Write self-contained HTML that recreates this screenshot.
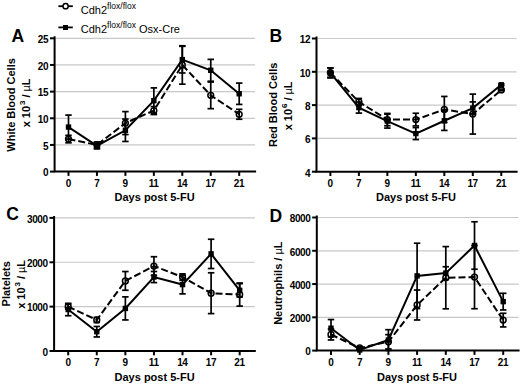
<!DOCTYPE html><html><head><meta charset="utf-8"><style>html,body{margin:0;padding:0;background:#fff;overflow:hidden;width:520px;height:385px;}svg{display:block}</style></head><body>
<svg width="520" height="385" viewBox="0 0 520 385" font-family='"Liberation Sans", sans-serif'>
<rect width="520" height="385" fill="#fff"/>
<line x1="55.60" y1="144.94" x2="255.10" y2="144.94" stroke="#c8c8c8" stroke-width="1.2"/>
<line x1="55.60" y1="118.28" x2="255.10" y2="118.28" stroke="#c8c8c8" stroke-width="1.2"/>
<line x1="55.60" y1="91.62" x2="255.10" y2="91.62" stroke="#c8c8c8" stroke-width="1.2"/>
<line x1="55.60" y1="64.96" x2="255.10" y2="64.96" stroke="#c8c8c8" stroke-width="1.2"/>
<line x1="55.60" y1="38.30" x2="255.10" y2="38.30" stroke="#c8c8c8" stroke-width="1.2"/>
<path d="M54.60 37.30 V171.60 H255.10" fill="none" stroke="#000" stroke-width="2.0" stroke-linecap="square"/>
<line x1="50.00" y1="171.60" x2="54.60" y2="171.60" stroke="#000" stroke-width="2.0"/>
<text x="48.20" y="176.40" font-size="10" font-weight="bold" letter-spacing="-0.4" text-anchor="end">0</text>
<line x1="50.00" y1="144.94" x2="54.60" y2="144.94" stroke="#000" stroke-width="2.0"/>
<text x="48.20" y="149.74" font-size="10" font-weight="bold" letter-spacing="-0.4" text-anchor="end">5</text>
<line x1="50.00" y1="118.28" x2="54.60" y2="118.28" stroke="#000" stroke-width="2.0"/>
<text x="48.20" y="123.08" font-size="10" font-weight="bold" letter-spacing="-0.4" text-anchor="end">10</text>
<line x1="50.00" y1="91.62" x2="54.60" y2="91.62" stroke="#000" stroke-width="2.0"/>
<text x="48.20" y="96.42" font-size="10" font-weight="bold" letter-spacing="-0.4" text-anchor="end">15</text>
<line x1="50.00" y1="64.96" x2="54.60" y2="64.96" stroke="#000" stroke-width="2.0"/>
<text x="48.20" y="69.76" font-size="10" font-weight="bold" letter-spacing="-0.4" text-anchor="end">20</text>
<line x1="50.00" y1="38.30" x2="54.60" y2="38.30" stroke="#000" stroke-width="2.0"/>
<text x="48.20" y="43.10" font-size="10" font-weight="bold" letter-spacing="-0.4" text-anchor="end">25</text>
<line x1="68.50" y1="171.60" x2="68.50" y2="175.90" stroke="#000" stroke-width="2.0"/>
<text x="68.30" y="186.70" font-size="10" font-weight="bold" letter-spacing="-0.4" text-anchor="middle">0</text>
<line x1="96.95" y1="171.60" x2="96.95" y2="175.90" stroke="#000" stroke-width="2.0"/>
<text x="96.75" y="186.70" font-size="10" font-weight="bold" letter-spacing="-0.4" text-anchor="middle">7</text>
<line x1="125.40" y1="171.60" x2="125.40" y2="175.90" stroke="#000" stroke-width="2.0"/>
<text x="125.20" y="186.70" font-size="10" font-weight="bold" letter-spacing="-0.4" text-anchor="middle">9</text>
<line x1="153.85" y1="171.60" x2="153.85" y2="175.90" stroke="#000" stroke-width="2.0"/>
<text x="153.65" y="186.70" font-size="10" font-weight="bold" letter-spacing="-0.4" text-anchor="middle">11</text>
<line x1="182.30" y1="171.60" x2="182.30" y2="175.90" stroke="#000" stroke-width="2.0"/>
<text x="182.10" y="186.70" font-size="10" font-weight="bold" letter-spacing="-0.4" text-anchor="middle">14</text>
<line x1="210.75" y1="171.60" x2="210.75" y2="175.90" stroke="#000" stroke-width="2.0"/>
<text x="210.55" y="186.70" font-size="10" font-weight="bold" letter-spacing="-0.4" text-anchor="middle">17</text>
<line x1="239.20" y1="171.60" x2="239.20" y2="175.90" stroke="#000" stroke-width="2.0"/>
<text x="239.00" y="186.70" font-size="10" font-weight="bold" letter-spacing="-0.4" text-anchor="middle">21</text>
<text x="154.60" y="200.80" font-size="11" font-weight="bold" text-anchor="middle">Days post 5-FU</text>
<text transform="translate(15.10 104.90) rotate(-90)" x="0" y="0" font-size="11" font-weight="bold" text-anchor="middle">White Blood Cells</text>
<text transform="translate(30.30 102.85) rotate(-90)" x="0" y="0" font-size="11" font-weight="bold" text-anchor="middle">x 10<tspan dx="0.8" dy="-5" font-size="8">3</tspan><tspan dy="5"> / </tspan><tspan font-weight="normal">µ</tspan>L</text>
<text x="11.50" y="41.80" font-size="17.5" font-weight="bold">A</text>
<line x1="68.50" y1="135.34" x2="68.50" y2="142.81" stroke="#000" stroke-width="1.7"/>
<line x1="65.25" y1="135.34" x2="71.75" y2="135.34" stroke="#000" stroke-width="1.7"/>
<line x1="65.25" y1="142.81" x2="71.75" y2="142.81" stroke="#000" stroke-width="1.7"/>
<line x1="96.95" y1="142.01" x2="96.95" y2="147.87" stroke="#000" stroke-width="1.7"/>
<line x1="93.70" y1="142.01" x2="100.20" y2="142.01" stroke="#000" stroke-width="1.7"/>
<line x1="93.70" y1="147.87" x2="100.20" y2="147.87" stroke="#000" stroke-width="1.7"/>
<line x1="125.40" y1="111.61" x2="125.40" y2="134.54" stroke="#000" stroke-width="1.7"/>
<line x1="122.15" y1="111.61" x2="128.65" y2="111.61" stroke="#000" stroke-width="1.7"/>
<line x1="122.15" y1="134.54" x2="128.65" y2="134.54" stroke="#000" stroke-width="1.7"/>
<line x1="153.85" y1="106.55" x2="153.85" y2="114.55" stroke="#000" stroke-width="1.7"/>
<line x1="150.60" y1="106.55" x2="157.10" y2="106.55" stroke="#000" stroke-width="1.7"/>
<line x1="150.60" y1="114.55" x2="157.10" y2="114.55" stroke="#000" stroke-width="1.7"/>
<line x1="182.30" y1="45.76" x2="182.30" y2="84.16" stroke="#000" stroke-width="1.7"/>
<line x1="179.05" y1="45.76" x2="185.55" y2="45.76" stroke="#000" stroke-width="1.7"/>
<line x1="179.05" y1="84.16" x2="185.55" y2="84.16" stroke="#000" stroke-width="1.7"/>
<line x1="210.75" y1="82.02" x2="210.75" y2="108.68" stroke="#000" stroke-width="1.7"/>
<line x1="207.50" y1="82.02" x2="214.00" y2="82.02" stroke="#000" stroke-width="1.7"/>
<line x1="207.50" y1="108.68" x2="214.00" y2="108.68" stroke="#000" stroke-width="1.7"/>
<line x1="239.20" y1="109.32" x2="239.20" y2="119.24" stroke="#000" stroke-width="1.7"/>
<line x1="235.95" y1="109.32" x2="242.45" y2="109.32" stroke="#000" stroke-width="1.7"/>
<line x1="235.95" y1="119.24" x2="242.45" y2="119.24" stroke="#000" stroke-width="1.7"/>
<polyline points="68.50,139.07 96.95,144.94 125.40,123.08 153.85,110.55 182.30,64.96 210.75,95.35 239.20,114.28" fill="none" stroke="#000" stroke-width="2.0" stroke-dasharray="7 3"/>
<circle cx="68.50" cy="139.07" r="2.9" fill="none" stroke="#000" stroke-width="1.5"/>
<circle cx="96.95" cy="144.94" r="2.9" fill="none" stroke="#000" stroke-width="1.5"/>
<circle cx="125.40" cy="123.08" r="2.9" fill="none" stroke="#000" stroke-width="1.5"/>
<circle cx="153.85" cy="110.55" r="2.9" fill="none" stroke="#000" stroke-width="1.5"/>
<circle cx="182.30" cy="64.96" r="2.9" fill="none" stroke="#000" stroke-width="1.5"/>
<circle cx="210.75" cy="95.35" r="2.9" fill="none" stroke="#000" stroke-width="1.5"/>
<circle cx="239.20" cy="114.28" r="2.9" fill="none" stroke="#000" stroke-width="1.5"/>
<line x1="68.50" y1="115.08" x2="68.50" y2="139.07" stroke="#000" stroke-width="1.7"/>
<line x1="65.25" y1="115.08" x2="71.75" y2="115.08" stroke="#000" stroke-width="1.7"/>
<line x1="65.25" y1="139.07" x2="71.75" y2="139.07" stroke="#000" stroke-width="1.7"/>
<line x1="96.95" y1="142.54" x2="96.95" y2="148.94" stroke="#000" stroke-width="1.7"/>
<line x1="93.70" y1="142.54" x2="100.20" y2="142.54" stroke="#000" stroke-width="1.7"/>
<line x1="93.70" y1="148.94" x2="100.20" y2="148.94" stroke="#000" stroke-width="1.7"/>
<line x1="125.40" y1="119.08" x2="125.40" y2="141.47" stroke="#000" stroke-width="1.7"/>
<line x1="122.15" y1="119.08" x2="128.65" y2="119.08" stroke="#000" stroke-width="1.7"/>
<line x1="122.15" y1="141.47" x2="128.65" y2="141.47" stroke="#000" stroke-width="1.7"/>
<line x1="153.85" y1="87.89" x2="153.85" y2="113.48" stroke="#000" stroke-width="1.7"/>
<line x1="150.60" y1="87.89" x2="157.10" y2="87.89" stroke="#000" stroke-width="1.7"/>
<line x1="150.60" y1="113.48" x2="157.10" y2="113.48" stroke="#000" stroke-width="1.7"/>
<line x1="182.30" y1="46.30" x2="182.30" y2="72.96" stroke="#000" stroke-width="1.7"/>
<line x1="179.05" y1="46.30" x2="185.55" y2="46.30" stroke="#000" stroke-width="1.7"/>
<line x1="179.05" y1="72.96" x2="185.55" y2="72.96" stroke="#000" stroke-width="1.7"/>
<line x1="210.75" y1="59.36" x2="210.75" y2="81.22" stroke="#000" stroke-width="1.7"/>
<line x1="207.50" y1="59.36" x2="214.00" y2="59.36" stroke="#000" stroke-width="1.7"/>
<line x1="207.50" y1="81.22" x2="214.00" y2="81.22" stroke="#000" stroke-width="1.7"/>
<line x1="239.20" y1="83.09" x2="239.20" y2="104.42" stroke="#000" stroke-width="1.7"/>
<line x1="235.95" y1="83.09" x2="242.45" y2="83.09" stroke="#000" stroke-width="1.7"/>
<line x1="235.95" y1="104.42" x2="242.45" y2="104.42" stroke="#000" stroke-width="1.7"/>
<polyline points="68.50,127.08 96.95,145.74 125.40,130.28 153.85,100.68 182.30,59.63 210.75,70.29 239.20,93.75" fill="none" stroke="#000" stroke-width="2.0"/>
<rect x="65.80" y="124.38" width="5.4" height="5.4" fill="#000"/>
<rect x="94.25" y="143.04" width="5.4" height="5.4" fill="#000"/>
<rect x="122.70" y="127.58" width="5.4" height="5.4" fill="#000"/>
<rect x="151.15" y="97.98" width="5.4" height="5.4" fill="#000"/>
<rect x="179.60" y="56.93" width="5.4" height="5.4" fill="#000"/>
<rect x="208.05" y="67.59" width="5.4" height="5.4" fill="#000"/>
<rect x="236.50" y="91.05" width="5.4" height="5.4" fill="#000"/>
<line x1="317.50" y1="138.40" x2="516.60" y2="138.40" stroke="#c8c8c8" stroke-width="1.2"/>
<line x1="317.50" y1="105.10" x2="516.60" y2="105.10" stroke="#c8c8c8" stroke-width="1.2"/>
<line x1="317.50" y1="71.80" x2="516.60" y2="71.80" stroke="#c8c8c8" stroke-width="1.2"/>
<line x1="317.50" y1="38.50" x2="516.60" y2="38.50" stroke="#c8c8c8" stroke-width="1.2"/>
<path d="M316.50 37.50 V171.70 H516.60" fill="none" stroke="#000" stroke-width="2.0" stroke-linecap="square"/>
<line x1="311.90" y1="171.70" x2="316.50" y2="171.70" stroke="#000" stroke-width="2.0"/>
<text x="310.10" y="176.50" font-size="10" font-weight="bold" letter-spacing="-0.4" text-anchor="end">4</text>
<line x1="311.90" y1="138.40" x2="316.50" y2="138.40" stroke="#000" stroke-width="2.0"/>
<text x="310.10" y="143.20" font-size="10" font-weight="bold" letter-spacing="-0.4" text-anchor="end">6</text>
<line x1="311.90" y1="105.10" x2="316.50" y2="105.10" stroke="#000" stroke-width="2.0"/>
<text x="310.10" y="109.90" font-size="10" font-weight="bold" letter-spacing="-0.4" text-anchor="end">8</text>
<line x1="311.90" y1="71.80" x2="316.50" y2="71.80" stroke="#000" stroke-width="2.0"/>
<text x="310.10" y="76.60" font-size="10" font-weight="bold" letter-spacing="-0.4" text-anchor="end">10</text>
<line x1="311.90" y1="38.50" x2="316.50" y2="38.50" stroke="#000" stroke-width="2.0"/>
<text x="310.10" y="43.30" font-size="10" font-weight="bold" letter-spacing="-0.4" text-anchor="end">12</text>
<line x1="330.40" y1="171.70" x2="330.40" y2="176.00" stroke="#000" stroke-width="2.0"/>
<text x="330.20" y="186.80" font-size="10" font-weight="bold" letter-spacing="-0.4" text-anchor="middle">0</text>
<line x1="358.88" y1="171.70" x2="358.88" y2="176.00" stroke="#000" stroke-width="2.0"/>
<text x="358.68" y="186.80" font-size="10" font-weight="bold" letter-spacing="-0.4" text-anchor="middle">7</text>
<line x1="387.36" y1="171.70" x2="387.36" y2="176.00" stroke="#000" stroke-width="2.0"/>
<text x="387.16" y="186.80" font-size="10" font-weight="bold" letter-spacing="-0.4" text-anchor="middle">9</text>
<line x1="415.84" y1="171.70" x2="415.84" y2="176.00" stroke="#000" stroke-width="2.0"/>
<text x="415.64" y="186.80" font-size="10" font-weight="bold" letter-spacing="-0.4" text-anchor="middle">11</text>
<line x1="444.32" y1="171.70" x2="444.32" y2="176.00" stroke="#000" stroke-width="2.0"/>
<text x="444.12" y="186.80" font-size="10" font-weight="bold" letter-spacing="-0.4" text-anchor="middle">14</text>
<line x1="472.80" y1="171.70" x2="472.80" y2="176.00" stroke="#000" stroke-width="2.0"/>
<text x="472.60" y="186.80" font-size="10" font-weight="bold" letter-spacing="-0.4" text-anchor="middle">17</text>
<line x1="501.28" y1="171.70" x2="501.28" y2="176.00" stroke="#000" stroke-width="2.0"/>
<text x="501.08" y="186.80" font-size="10" font-weight="bold" letter-spacing="-0.4" text-anchor="middle">21</text>
<text x="416.00" y="200.80" font-size="11" font-weight="bold" text-anchor="middle">Days post 5-FU</text>
<text transform="translate(276.50 104.85) rotate(-90)" x="0" y="0" font-size="11" font-weight="bold" text-anchor="middle">Red Blood Cells</text>
<text transform="translate(292.30 105.85) rotate(-90)" x="0" y="0" font-size="11" font-weight="bold" text-anchor="middle">x 10<tspan dx="0.8" dy="-5" font-size="8">6</tspan><tspan dy="5"> / </tspan><tspan font-weight="normal">µ</tspan>L</text>
<text x="269.50" y="41.60" font-size="17.5" font-weight="bold">B</text>
<line x1="330.40" y1="67.97" x2="330.40" y2="77.29" stroke="#000" stroke-width="1.7"/>
<line x1="327.15" y1="67.97" x2="333.65" y2="67.97" stroke="#000" stroke-width="1.7"/>
<line x1="327.15" y1="77.29" x2="333.65" y2="77.29" stroke="#000" stroke-width="1.7"/>
<line x1="358.88" y1="98.44" x2="358.88" y2="105.43" stroke="#000" stroke-width="1.7"/>
<line x1="355.63" y1="98.44" x2="362.13" y2="98.44" stroke="#000" stroke-width="1.7"/>
<line x1="355.63" y1="105.43" x2="362.13" y2="105.43" stroke="#000" stroke-width="1.7"/>
<line x1="387.36" y1="113.42" x2="387.36" y2="125.75" stroke="#000" stroke-width="1.7"/>
<line x1="384.11" y1="113.42" x2="390.61" y2="113.42" stroke="#000" stroke-width="1.7"/>
<line x1="384.11" y1="125.75" x2="390.61" y2="125.75" stroke="#000" stroke-width="1.7"/>
<line x1="415.84" y1="113.26" x2="415.84" y2="125.91" stroke="#000" stroke-width="1.7"/>
<line x1="412.59" y1="113.26" x2="419.09" y2="113.26" stroke="#000" stroke-width="1.7"/>
<line x1="412.59" y1="125.91" x2="419.09" y2="125.91" stroke="#000" stroke-width="1.7"/>
<line x1="444.32" y1="96.44" x2="444.32" y2="122.42" stroke="#000" stroke-width="1.7"/>
<line x1="441.07" y1="96.44" x2="447.57" y2="96.44" stroke="#000" stroke-width="1.7"/>
<line x1="441.07" y1="122.42" x2="447.57" y2="122.42" stroke="#000" stroke-width="1.7"/>
<line x1="472.80" y1="94.11" x2="472.80" y2="134.07" stroke="#000" stroke-width="1.7"/>
<line x1="469.55" y1="94.11" x2="476.05" y2="94.11" stroke="#000" stroke-width="1.7"/>
<line x1="469.55" y1="134.07" x2="476.05" y2="134.07" stroke="#000" stroke-width="1.7"/>
<line x1="501.28" y1="89.12" x2="501.28" y2="90.78" stroke="#000" stroke-width="1.7"/>
<line x1="498.03" y1="89.12" x2="504.53" y2="89.12" stroke="#000" stroke-width="1.7"/>
<line x1="498.03" y1="90.78" x2="504.53" y2="90.78" stroke="#000" stroke-width="1.7"/>
<polyline points="330.40,72.63 358.88,101.94 387.36,119.59 415.84,119.59 444.32,109.43 472.80,114.09 501.28,89.95" fill="none" stroke="#000" stroke-width="2.0" stroke-dasharray="7 3"/>
<circle cx="330.40" cy="72.63" r="2.9" fill="none" stroke="#000" stroke-width="1.5"/>
<circle cx="358.88" cy="101.94" r="2.9" fill="none" stroke="#000" stroke-width="1.5"/>
<circle cx="387.36" cy="119.59" r="2.9" fill="none" stroke="#000" stroke-width="1.5"/>
<circle cx="415.84" cy="119.59" r="2.9" fill="none" stroke="#000" stroke-width="1.5"/>
<circle cx="444.32" cy="109.43" r="2.9" fill="none" stroke="#000" stroke-width="1.5"/>
<circle cx="472.80" cy="114.09" r="2.9" fill="none" stroke="#000" stroke-width="1.5"/>
<circle cx="501.28" cy="89.95" r="2.9" fill="none" stroke="#000" stroke-width="1.5"/>
<line x1="330.40" y1="67.97" x2="330.40" y2="77.96" stroke="#000" stroke-width="1.7"/>
<line x1="327.15" y1="67.97" x2="333.65" y2="67.97" stroke="#000" stroke-width="1.7"/>
<line x1="327.15" y1="77.96" x2="333.65" y2="77.96" stroke="#000" stroke-width="1.7"/>
<line x1="358.88" y1="102.10" x2="358.88" y2="113.09" stroke="#000" stroke-width="1.7"/>
<line x1="355.63" y1="102.10" x2="362.13" y2="102.10" stroke="#000" stroke-width="1.7"/>
<line x1="355.63" y1="113.09" x2="362.13" y2="113.09" stroke="#000" stroke-width="1.7"/>
<line x1="387.36" y1="114.09" x2="387.36" y2="128.08" stroke="#000" stroke-width="1.7"/>
<line x1="384.11" y1="114.09" x2="390.61" y2="114.09" stroke="#000" stroke-width="1.7"/>
<line x1="384.11" y1="128.08" x2="390.61" y2="128.08" stroke="#000" stroke-width="1.7"/>
<line x1="415.84" y1="127.58" x2="415.84" y2="139.57" stroke="#000" stroke-width="1.7"/>
<line x1="412.59" y1="127.58" x2="419.09" y2="127.58" stroke="#000" stroke-width="1.7"/>
<line x1="412.59" y1="139.57" x2="419.09" y2="139.57" stroke="#000" stroke-width="1.7"/>
<line x1="444.32" y1="111.09" x2="444.32" y2="130.41" stroke="#000" stroke-width="1.7"/>
<line x1="441.07" y1="111.09" x2="447.57" y2="111.09" stroke="#000" stroke-width="1.7"/>
<line x1="441.07" y1="130.41" x2="447.57" y2="130.41" stroke="#000" stroke-width="1.7"/>
<line x1="472.80" y1="101.94" x2="472.80" y2="114.26" stroke="#000" stroke-width="1.7"/>
<line x1="469.55" y1="101.94" x2="476.05" y2="101.94" stroke="#000" stroke-width="1.7"/>
<line x1="469.55" y1="114.26" x2="476.05" y2="114.26" stroke="#000" stroke-width="1.7"/>
<line x1="501.28" y1="83.95" x2="501.28" y2="85.62" stroke="#000" stroke-width="1.7"/>
<line x1="498.03" y1="83.95" x2="504.53" y2="83.95" stroke="#000" stroke-width="1.7"/>
<line x1="498.03" y1="85.62" x2="504.53" y2="85.62" stroke="#000" stroke-width="1.7"/>
<polyline points="330.40,72.97 358.88,107.60 387.36,121.08 415.84,133.57 444.32,120.75 472.80,108.10 501.28,84.79" fill="none" stroke="#000" stroke-width="2.0"/>
<rect x="327.70" y="70.27" width="5.4" height="5.4" fill="#000"/>
<rect x="356.18" y="104.90" width="5.4" height="5.4" fill="#000"/>
<rect x="384.66" y="118.38" width="5.4" height="5.4" fill="#000"/>
<rect x="413.14" y="130.87" width="5.4" height="5.4" fill="#000"/>
<rect x="441.62" y="118.05" width="5.4" height="5.4" fill="#000"/>
<rect x="470.10" y="105.40" width="5.4" height="5.4" fill="#000"/>
<rect x="498.58" y="82.09" width="5.4" height="5.4" fill="#000"/>
<line x1="55.10" y1="306.63" x2="254.80" y2="306.63" stroke="#c8c8c8" stroke-width="1.2"/>
<line x1="55.10" y1="262.27" x2="254.80" y2="262.27" stroke="#c8c8c8" stroke-width="1.2"/>
<line x1="55.10" y1="217.90" x2="254.80" y2="217.90" stroke="#c8c8c8" stroke-width="1.2"/>
<path d="M54.10 216.90 V351.00 H254.80" fill="none" stroke="#000" stroke-width="2.0" stroke-linecap="square"/>
<line x1="49.50" y1="351.00" x2="54.10" y2="351.00" stroke="#000" stroke-width="2.0"/>
<text x="47.70" y="355.80" font-size="10" font-weight="bold" letter-spacing="-0.4" text-anchor="end">0</text>
<line x1="49.50" y1="306.63" x2="54.10" y2="306.63" stroke="#000" stroke-width="2.0"/>
<text x="47.70" y="311.43" font-size="10" font-weight="bold" letter-spacing="-0.4" text-anchor="end">1000</text>
<line x1="49.50" y1="262.27" x2="54.10" y2="262.27" stroke="#000" stroke-width="2.0"/>
<text x="47.70" y="267.07" font-size="10" font-weight="bold" letter-spacing="-0.4" text-anchor="end">2000</text>
<line x1="49.50" y1="217.90" x2="54.10" y2="217.90" stroke="#000" stroke-width="2.0"/>
<text x="47.70" y="222.70" font-size="10" font-weight="bold" letter-spacing="-0.4" text-anchor="end">3000</text>
<line x1="68.20" y1="351.00" x2="68.20" y2="355.30" stroke="#000" stroke-width="2.0"/>
<text x="68.00" y="366.10" font-size="10" font-weight="bold" letter-spacing="-0.4" text-anchor="middle">0</text>
<line x1="96.78" y1="351.00" x2="96.78" y2="355.30" stroke="#000" stroke-width="2.0"/>
<text x="96.58" y="366.10" font-size="10" font-weight="bold" letter-spacing="-0.4" text-anchor="middle">7</text>
<line x1="125.36" y1="351.00" x2="125.36" y2="355.30" stroke="#000" stroke-width="2.0"/>
<text x="125.16" y="366.10" font-size="10" font-weight="bold" letter-spacing="-0.4" text-anchor="middle">9</text>
<line x1="153.94" y1="351.00" x2="153.94" y2="355.30" stroke="#000" stroke-width="2.0"/>
<text x="153.74" y="366.10" font-size="10" font-weight="bold" letter-spacing="-0.4" text-anchor="middle">11</text>
<line x1="182.52" y1="351.00" x2="182.52" y2="355.30" stroke="#000" stroke-width="2.0"/>
<text x="182.32" y="366.10" font-size="10" font-weight="bold" letter-spacing="-0.4" text-anchor="middle">14</text>
<line x1="211.10" y1="351.00" x2="211.10" y2="355.30" stroke="#000" stroke-width="2.0"/>
<text x="210.90" y="366.10" font-size="10" font-weight="bold" letter-spacing="-0.4" text-anchor="middle">17</text>
<line x1="239.68" y1="351.00" x2="239.68" y2="355.30" stroke="#000" stroke-width="2.0"/>
<text x="239.48" y="366.10" font-size="10" font-weight="bold" letter-spacing="-0.4" text-anchor="middle">21</text>
<text x="154.60" y="380.50" font-size="11" font-weight="bold" text-anchor="middle">Days post 5-FU</text>
<text transform="translate(9.60 283.80) rotate(-90)" x="0" y="0" font-size="11" font-weight="bold" text-anchor="middle">Platelets</text>
<text transform="translate(25.00 284.35) rotate(-90)" x="0" y="0" font-size="11" font-weight="bold" text-anchor="middle">x 10<tspan dx="0.8" dy="-5" font-size="8">3</tspan><tspan dy="5"> / </tspan><tspan font-weight="normal">µ</tspan>L</text>
<text x="6.30" y="220.30" font-size="17.5" font-weight="bold">C</text>
<line x1="68.20" y1="304.06" x2="68.20" y2="309.21" stroke="#000" stroke-width="1.7"/>
<line x1="64.95" y1="304.06" x2="71.45" y2="304.06" stroke="#000" stroke-width="1.7"/>
<line x1="64.95" y1="309.21" x2="71.45" y2="309.21" stroke="#000" stroke-width="1.7"/>
<line x1="96.78" y1="317.41" x2="96.78" y2="322.47" stroke="#000" stroke-width="1.7"/>
<line x1="93.53" y1="317.41" x2="100.03" y2="317.41" stroke="#000" stroke-width="1.7"/>
<line x1="93.53" y1="322.47" x2="100.03" y2="322.47" stroke="#000" stroke-width="1.7"/>
<line x1="125.36" y1="271.54" x2="125.36" y2="290.26" stroke="#000" stroke-width="1.7"/>
<line x1="122.11" y1="271.54" x2="128.61" y2="271.54" stroke="#000" stroke-width="1.7"/>
<line x1="122.11" y1="290.26" x2="128.61" y2="290.26" stroke="#000" stroke-width="1.7"/>
<line x1="153.94" y1="256.72" x2="153.94" y2="275.35" stroke="#000" stroke-width="1.7"/>
<line x1="150.69" y1="256.72" x2="157.19" y2="256.72" stroke="#000" stroke-width="1.7"/>
<line x1="150.69" y1="275.35" x2="157.19" y2="275.35" stroke="#000" stroke-width="1.7"/>
<line x1="182.52" y1="273.85" x2="182.52" y2="280.24" stroke="#000" stroke-width="1.7"/>
<line x1="179.27" y1="273.85" x2="185.77" y2="273.85" stroke="#000" stroke-width="1.7"/>
<line x1="179.27" y1="280.24" x2="185.77" y2="280.24" stroke="#000" stroke-width="1.7"/>
<line x1="211.10" y1="272.78" x2="211.10" y2="313.60" stroke="#000" stroke-width="1.7"/>
<line x1="207.85" y1="272.78" x2="214.35" y2="272.78" stroke="#000" stroke-width="1.7"/>
<line x1="207.85" y1="313.60" x2="214.35" y2="313.60" stroke="#000" stroke-width="1.7"/>
<line x1="239.68" y1="283.03" x2="239.68" y2="306.10" stroke="#000" stroke-width="1.7"/>
<line x1="236.43" y1="283.03" x2="242.93" y2="283.03" stroke="#000" stroke-width="1.7"/>
<line x1="236.43" y1="306.10" x2="242.93" y2="306.10" stroke="#000" stroke-width="1.7"/>
<polyline points="68.20,306.63 96.78,319.94 125.36,280.90 153.94,266.04 182.52,277.04 211.10,293.19 239.68,294.57" fill="none" stroke="#000" stroke-width="2.0" stroke-dasharray="7 3"/>
<circle cx="68.20" cy="306.63" r="2.9" fill="none" stroke="#000" stroke-width="1.5"/>
<circle cx="96.78" cy="319.94" r="2.9" fill="none" stroke="#000" stroke-width="1.5"/>
<circle cx="125.36" cy="280.90" r="2.9" fill="none" stroke="#000" stroke-width="1.5"/>
<circle cx="153.94" cy="266.04" r="2.9" fill="none" stroke="#000" stroke-width="1.5"/>
<circle cx="182.52" cy="277.04" r="2.9" fill="none" stroke="#000" stroke-width="1.5"/>
<circle cx="211.10" cy="293.19" r="2.9" fill="none" stroke="#000" stroke-width="1.5"/>
<circle cx="239.68" cy="294.57" r="2.9" fill="none" stroke="#000" stroke-width="1.5"/>
<line x1="68.20" y1="303.31" x2="68.20" y2="315.73" stroke="#000" stroke-width="1.7"/>
<line x1="64.95" y1="303.31" x2="71.45" y2="303.31" stroke="#000" stroke-width="1.7"/>
<line x1="64.95" y1="315.73" x2="71.45" y2="315.73" stroke="#000" stroke-width="1.7"/>
<line x1="96.78" y1="326.47" x2="96.78" y2="336.94" stroke="#000" stroke-width="1.7"/>
<line x1="93.53" y1="326.47" x2="100.03" y2="326.47" stroke="#000" stroke-width="1.7"/>
<line x1="93.53" y1="336.94" x2="100.03" y2="336.94" stroke="#000" stroke-width="1.7"/>
<line x1="125.36" y1="296.87" x2="125.36" y2="319.94" stroke="#000" stroke-width="1.7"/>
<line x1="122.11" y1="296.87" x2="128.61" y2="296.87" stroke="#000" stroke-width="1.7"/>
<line x1="122.11" y1="319.94" x2="128.61" y2="319.94" stroke="#000" stroke-width="1.7"/>
<line x1="153.94" y1="271.49" x2="153.94" y2="282.59" stroke="#000" stroke-width="1.7"/>
<line x1="150.69" y1="271.49" x2="157.19" y2="271.49" stroke="#000" stroke-width="1.7"/>
<line x1="150.69" y1="282.59" x2="157.19" y2="282.59" stroke="#000" stroke-width="1.7"/>
<line x1="182.52" y1="275.27" x2="182.52" y2="293.90" stroke="#000" stroke-width="1.7"/>
<line x1="179.27" y1="275.27" x2="185.77" y2="275.27" stroke="#000" stroke-width="1.7"/>
<line x1="179.27" y1="293.90" x2="185.77" y2="293.90" stroke="#000" stroke-width="1.7"/>
<line x1="211.10" y1="239.24" x2="211.10" y2="268.52" stroke="#000" stroke-width="1.7"/>
<line x1="207.85" y1="239.24" x2="214.35" y2="239.24" stroke="#000" stroke-width="1.7"/>
<line x1="207.85" y1="268.52" x2="214.35" y2="268.52" stroke="#000" stroke-width="1.7"/>
<line x1="239.68" y1="283.65" x2="239.68" y2="296.96" stroke="#000" stroke-width="1.7"/>
<line x1="236.43" y1="283.65" x2="242.93" y2="283.65" stroke="#000" stroke-width="1.7"/>
<line x1="236.43" y1="296.96" x2="242.93" y2="296.96" stroke="#000" stroke-width="1.7"/>
<polyline points="68.20,309.52 96.78,331.70 125.36,308.41 153.94,277.04 182.52,284.58 211.10,253.88 239.68,290.31" fill="none" stroke="#000" stroke-width="2.0"/>
<rect x="65.50" y="306.82" width="5.4" height="5.4" fill="#000"/>
<rect x="94.08" y="329.00" width="5.4" height="5.4" fill="#000"/>
<rect x="122.66" y="305.71" width="5.4" height="5.4" fill="#000"/>
<rect x="151.24" y="274.34" width="5.4" height="5.4" fill="#000"/>
<rect x="179.82" y="281.88" width="5.4" height="5.4" fill="#000"/>
<rect x="208.40" y="251.18" width="5.4" height="5.4" fill="#000"/>
<rect x="236.98" y="287.61" width="5.4" height="5.4" fill="#000"/>
<line x1="317.80" y1="317.33" x2="518.60" y2="317.33" stroke="#c8c8c8" stroke-width="1.2"/>
<line x1="317.80" y1="284.05" x2="518.60" y2="284.05" stroke="#c8c8c8" stroke-width="1.2"/>
<line x1="317.80" y1="250.78" x2="518.60" y2="250.78" stroke="#c8c8c8" stroke-width="1.2"/>
<line x1="317.80" y1="217.50" x2="518.60" y2="217.50" stroke="#c8c8c8" stroke-width="1.2"/>
<path d="M316.80 216.50 V350.60 H518.60" fill="none" stroke="#000" stroke-width="2.0" stroke-linecap="square"/>
<line x1="312.20" y1="350.60" x2="316.80" y2="350.60" stroke="#000" stroke-width="2.0"/>
<text x="310.40" y="355.40" font-size="10" font-weight="bold" letter-spacing="-0.4" text-anchor="end">0</text>
<line x1="312.20" y1="317.33" x2="316.80" y2="317.33" stroke="#000" stroke-width="2.0"/>
<text x="310.40" y="322.13" font-size="10" font-weight="bold" letter-spacing="-0.4" text-anchor="end">2000</text>
<line x1="312.20" y1="284.05" x2="316.80" y2="284.05" stroke="#000" stroke-width="2.0"/>
<text x="310.40" y="288.85" font-size="10" font-weight="bold" letter-spacing="-0.4" text-anchor="end">4000</text>
<line x1="312.20" y1="250.78" x2="316.80" y2="250.78" stroke="#000" stroke-width="2.0"/>
<text x="310.40" y="255.58" font-size="10" font-weight="bold" letter-spacing="-0.4" text-anchor="end">6000</text>
<line x1="312.20" y1="217.50" x2="316.80" y2="217.50" stroke="#000" stroke-width="2.0"/>
<text x="310.40" y="222.30" font-size="10" font-weight="bold" letter-spacing="-0.4" text-anchor="end">8000</text>
<line x1="331.00" y1="350.60" x2="331.00" y2="354.90" stroke="#000" stroke-width="2.0"/>
<text x="330.80" y="365.70" font-size="10" font-weight="bold" letter-spacing="-0.4" text-anchor="middle">0</text>
<line x1="359.70" y1="350.60" x2="359.70" y2="354.90" stroke="#000" stroke-width="2.0"/>
<text x="359.50" y="365.70" font-size="10" font-weight="bold" letter-spacing="-0.4" text-anchor="middle">7</text>
<line x1="388.40" y1="350.60" x2="388.40" y2="354.90" stroke="#000" stroke-width="2.0"/>
<text x="388.20" y="365.70" font-size="10" font-weight="bold" letter-spacing="-0.4" text-anchor="middle">9</text>
<line x1="417.10" y1="350.60" x2="417.10" y2="354.90" stroke="#000" stroke-width="2.0"/>
<text x="416.90" y="365.70" font-size="10" font-weight="bold" letter-spacing="-0.4" text-anchor="middle">11</text>
<line x1="445.80" y1="350.60" x2="445.80" y2="354.90" stroke="#000" stroke-width="2.0"/>
<text x="445.60" y="365.70" font-size="10" font-weight="bold" letter-spacing="-0.4" text-anchor="middle">14</text>
<line x1="474.50" y1="350.60" x2="474.50" y2="354.90" stroke="#000" stroke-width="2.0"/>
<text x="474.30" y="365.70" font-size="10" font-weight="bold" letter-spacing="-0.4" text-anchor="middle">17</text>
<line x1="503.20" y1="350.60" x2="503.20" y2="354.90" stroke="#000" stroke-width="2.0"/>
<text x="503.00" y="365.70" font-size="10" font-weight="bold" letter-spacing="-0.4" text-anchor="middle">21</text>
<text x="417.00" y="380.50" font-size="11" font-weight="bold" text-anchor="middle">Days post 5-FU</text>
<text transform="translate(282.00 283.15) rotate(-90)" x="0" y="0" font-size="11" font-weight="bold" text-anchor="middle">Neutrophils / <tspan font-weight="normal">µ</tspan>L</text>
<text x="269.50" y="221.80" font-size="17.5" font-weight="bold">D</text>
<line x1="331.00" y1="329.05" x2="331.00" y2="339.97" stroke="#000" stroke-width="1.7"/>
<line x1="327.75" y1="329.05" x2="334.25" y2="329.05" stroke="#000" stroke-width="1.7"/>
<line x1="327.75" y1="339.97" x2="334.25" y2="339.97" stroke="#000" stroke-width="1.7"/>
<line x1="359.70" y1="346.66" x2="359.70" y2="349.32" stroke="#000" stroke-width="1.7"/>
<line x1="356.45" y1="346.66" x2="362.95" y2="346.66" stroke="#000" stroke-width="1.7"/>
<line x1="356.45" y1="349.32" x2="362.95" y2="349.32" stroke="#000" stroke-width="1.7"/>
<line x1="388.40" y1="334.63" x2="388.40" y2="348.94" stroke="#000" stroke-width="1.7"/>
<line x1="385.15" y1="334.63" x2="391.65" y2="334.63" stroke="#000" stroke-width="1.7"/>
<line x1="385.15" y1="348.94" x2="391.65" y2="348.94" stroke="#000" stroke-width="1.7"/>
<line x1="417.10" y1="290.04" x2="417.10" y2="319.99" stroke="#000" stroke-width="1.7"/>
<line x1="413.85" y1="290.04" x2="420.35" y2="290.04" stroke="#000" stroke-width="1.7"/>
<line x1="413.85" y1="319.99" x2="420.35" y2="319.99" stroke="#000" stroke-width="1.7"/>
<line x1="445.80" y1="246.60" x2="445.80" y2="308.82" stroke="#000" stroke-width="1.7"/>
<line x1="442.55" y1="246.60" x2="449.05" y2="246.60" stroke="#000" stroke-width="1.7"/>
<line x1="442.55" y1="308.82" x2="449.05" y2="308.82" stroke="#000" stroke-width="1.7"/>
<line x1="474.50" y1="245.50" x2="474.50" y2="308.72" stroke="#000" stroke-width="1.7"/>
<line x1="471.25" y1="245.50" x2="477.75" y2="245.50" stroke="#000" stroke-width="1.7"/>
<line x1="471.25" y1="308.72" x2="477.75" y2="308.72" stroke="#000" stroke-width="1.7"/>
<line x1="503.20" y1="313.28" x2="503.20" y2="326.92" stroke="#000" stroke-width="1.7"/>
<line x1="499.95" y1="313.28" x2="506.45" y2="313.28" stroke="#000" stroke-width="1.7"/>
<line x1="499.95" y1="326.92" x2="506.45" y2="326.92" stroke="#000" stroke-width="1.7"/>
<polyline points="331.00,334.51 359.70,347.99 388.40,341.78 417.10,305.01 445.80,277.71 474.50,277.11 503.20,320.10" fill="none" stroke="#000" stroke-width="2.0" stroke-dasharray="7 3"/>
<circle cx="331.00" cy="334.51" r="2.9" fill="none" stroke="#000" stroke-width="1.5"/>
<circle cx="359.70" cy="347.99" r="2.9" fill="none" stroke="#000" stroke-width="1.5"/>
<circle cx="388.40" cy="341.78" r="2.9" fill="none" stroke="#000" stroke-width="1.5"/>
<circle cx="417.10" cy="305.01" r="2.9" fill="none" stroke="#000" stroke-width="1.5"/>
<circle cx="445.80" cy="277.71" r="2.9" fill="none" stroke="#000" stroke-width="1.5"/>
<circle cx="474.50" cy="277.11" r="2.9" fill="none" stroke="#000" stroke-width="1.5"/>
<circle cx="503.20" cy="320.10" r="2.9" fill="none" stroke="#000" stroke-width="1.5"/>
<line x1="331.00" y1="319.55" x2="331.00" y2="336.86" stroke="#000" stroke-width="1.7"/>
<line x1="327.75" y1="319.55" x2="334.25" y2="319.55" stroke="#000" stroke-width="1.7"/>
<line x1="327.75" y1="336.86" x2="334.25" y2="336.86" stroke="#000" stroke-width="1.7"/>
<line x1="359.70" y1="349.00" x2="359.70" y2="350.60" stroke="#000" stroke-width="1.7"/>
<line x1="356.45" y1="349.00" x2="362.95" y2="349.00" stroke="#000" stroke-width="1.7"/>
<line x1="388.40" y1="329.69" x2="388.40" y2="350.32" stroke="#000" stroke-width="1.7"/>
<line x1="385.15" y1="329.69" x2="391.65" y2="329.69" stroke="#000" stroke-width="1.7"/>
<line x1="385.15" y1="350.32" x2="391.65" y2="350.32" stroke="#000" stroke-width="1.7"/>
<line x1="417.10" y1="243.22" x2="417.10" y2="308.57" stroke="#000" stroke-width="1.7"/>
<line x1="413.85" y1="243.22" x2="420.35" y2="243.22" stroke="#000" stroke-width="1.7"/>
<line x1="413.85" y1="308.57" x2="420.35" y2="308.57" stroke="#000" stroke-width="1.7"/>
<line x1="445.80" y1="266.75" x2="445.80" y2="279.46" stroke="#000" stroke-width="1.7"/>
<line x1="442.55" y1="266.75" x2="449.05" y2="266.75" stroke="#000" stroke-width="1.7"/>
<line x1="442.55" y1="279.46" x2="449.05" y2="279.46" stroke="#000" stroke-width="1.7"/>
<line x1="474.50" y1="221.78" x2="474.50" y2="269.23" stroke="#000" stroke-width="1.7"/>
<line x1="471.25" y1="221.78" x2="477.75" y2="221.78" stroke="#000" stroke-width="1.7"/>
<line x1="471.25" y1="269.23" x2="477.75" y2="269.23" stroke="#000" stroke-width="1.7"/>
<line x1="503.20" y1="293.30" x2="503.20" y2="309.94" stroke="#000" stroke-width="1.7"/>
<line x1="499.95" y1="293.30" x2="506.45" y2="293.30" stroke="#000" stroke-width="1.7"/>
<line x1="499.95" y1="309.94" x2="506.45" y2="309.94" stroke="#000" stroke-width="1.7"/>
<polyline points="331.00,328.21 359.70,350.00 388.40,340.00 417.10,275.90 445.80,273.10 474.50,245.50 503.20,301.62" fill="none" stroke="#000" stroke-width="2.0"/>
<rect x="328.30" y="325.51" width="5.4" height="5.4" fill="#000"/>
<rect x="357.00" y="347.30" width="5.4" height="5.4" fill="#000"/>
<rect x="385.70" y="337.30" width="5.4" height="5.4" fill="#000"/>
<rect x="414.40" y="273.20" width="5.4" height="5.4" fill="#000"/>
<rect x="443.10" y="270.40" width="5.4" height="5.4" fill="#000"/>
<rect x="471.80" y="242.80" width="5.4" height="5.4" fill="#000"/>
<rect x="500.50" y="298.92" width="5.4" height="5.4" fill="#000"/>
<line x1="58.4" y1="6.2" x2="72.8" y2="6.2" stroke="#000" stroke-width="1.8"/>
<circle cx="65.6" cy="6.2" r="2.6" fill="#fff" stroke="#000" stroke-width="1.5"/>
<text x="80.8" y="13.9" font-size="11">Cdh2<tspan dy="-5" font-size="8.5">flox/flox</tspan></text>
<line x1="58.4" y1="27.4" x2="72.8" y2="27.4" stroke="#000" stroke-width="1.8"/>
<rect x="63" y="25" width="5" height="5" fill="#000"/>
<text x="80.8" y="32.6" font-size="11">Cdh2<tspan dy="-5" font-size="8.5">flox/flox</tspan><tspan dy="5"> Osx-Cre</tspan></text>
</svg></body></html>
